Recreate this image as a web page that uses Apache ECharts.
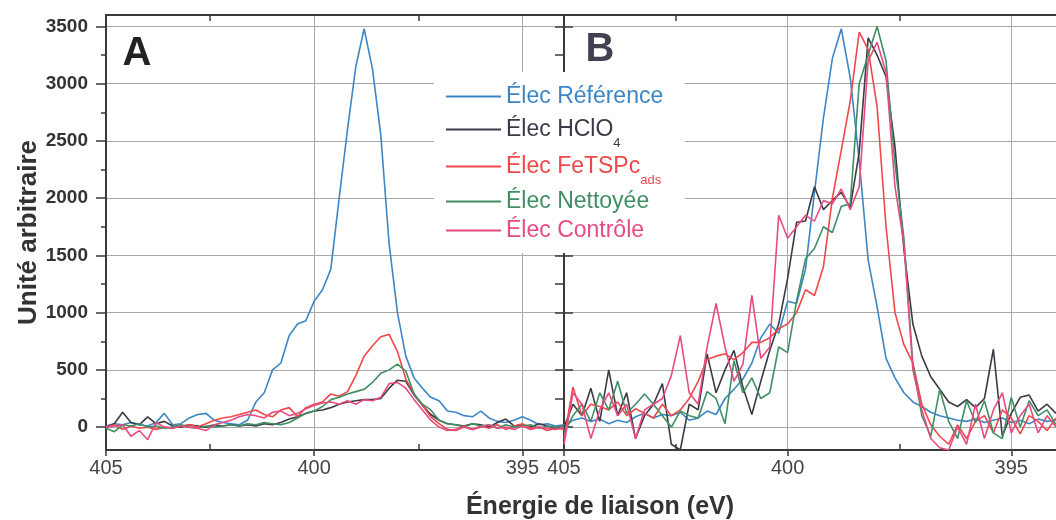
<!DOCTYPE html>
<html>
<head>
<meta charset="utf-8">
<script src="https://cdn.jsdelivr.net/npm/echarts@6/dist/echarts.min.js"></script>
<style>
html, body { margin: 0; padding: 0; background: #fff; }
#main { width: 1056px; height: 520px; }
</style>
</head>
<body>
<div id="main"></div>
<script>
// energie de liaison (eV), pas de 0.2
var energies = [405.0, 404.8, 404.6, 404.4, 404.2, 404.0, 403.8, 403.6, 403.4, 403.2,
    403.0, 402.8, 402.6, 402.4, 402.2, 402.0, 401.8, 401.6, 401.4, 401.2,
    401.0, 400.8, 400.6, 400.4, 400.2, 400.0, 399.8, 399.6, 399.4, 399.2,
    399.0, 398.8, 398.6, 398.4, 398.2, 398.0, 397.8, 397.6, 397.4, 397.2,
    397.0, 396.8, 396.6, 396.4, 396.2, 396.0, 395.8, 395.6, 395.4, 395.2,
    395.0, 394.8, 394.6, 394.4, 394.2, 394.0];

var names = ['Élec Référence', 'Élec HClO4', 'Élec FeTSPc ads', 'Élec Nettoyée', 'Élec Contrôle'];
var colors = ['#3d86c6', '#3b3b47', '#f0484a', '#3f8f63', '#e84a82'];

// panneau A
var refA = [10, 30, 20, 40, 20, 10, 40, 120, 20, 30,
    80, 110, 120, 60, 40, 30, 20, 60, 220, 300,
    500, 560, 800, 900, 930, 1100, 1200, 1380, 2000, 2600,
    3150, 3480, 3130, 2550, 1600, 1000, 620, 430, 340, 260,
    230, 140, 130, 100, 90, 140, 80, 50, 40, 60,
    90, 60, 20, 30, 10, 20];
var hclo4A = [0, 30, 130, 40, 20, 90, 30, 50, 10, 0,
    20, 10, 0, 20, 10, 20, 10, 20, 10, 30,
    20, 40, 70, 90, 120, 140, 150, 170, 200, 220,
    230, 240, 240, 250, 340, 410, 400, 280, 190, 110,
    60, 30, 20, 10, 30, 20, 0, 40, 70, 10,
    20, 0, 30, 10, -10, 10];
var fetspcA = [0, 20, -20, 10, -10, 0, -20, 0, -10, 10,
    20, 0, 30, 60, 80, 90, 110, 130, 150, 110,
    90, 150, 170, 90, 170, 200, 220, 290, 270, 310,
    450, 620, 710, 790, 810, 660, 420, 290, 190, 90,
    30, -20, -30, 0, -20, 10, -10, 20, -20, 10,
    30, -10, 0, -30, -10, -20];
var nettoyeeA = [-10, -40, 20, 10, 30, 0, 10, -10, 0, 20,
    0, -10, 10, 0, 10, 20, 10, 30, 20, 40,
    30, 20, 40, 80, 120, 140, 180, 240, 260, 290,
    310, 330, 390, 470, 500, 550, 490, 290, 200, 150,
    60, 30, 20, 0, 30, 10, 20, -10, 20, 0,
    10, 20, -10, 10, 0, 10];
var controleA = [0, 10, 20, -80, -30, -110, 40, 0, -10, 10,
    0, -10, -30, 20, 40, 60, 90, 110, 100, 80,
    130, 140, 100, 120, 160, 190, 210, 220, 200, 230,
    200, 240, 230, 260, 380, 390, 340, 240, 150, 60,
    0, -30, -20, 10, -20, 0, 20, -10, 0, -20,
    10, -20, 0, -10, -20, 0];

// panneau B
var refB = [0, 60, 80, 50, 70, 30, 60, 40, 90, 120,
    80, 110, 100, 130, 60, 80, 140, 110, 250, 330,
    420, 560, 780, 900, 820, 1100, 1080, 1380, 2050, 2700,
    3220, 3480, 3050, 2330, 1460, 1050, 600, 430, 300, 220,
    180, 130, 100, 80, 60, 50, 70, 40, 60, 80,
    40, 60, 30, 70, 50, 60];
var hclo4B = [0, 200, 100, 340, 50, 500, 100, 300, -100, 100,
    200, 380, -150, -200, 200, 150, 640, 300, 500, 670,
    350, 110, 400, 670, 900, 1300, 1790, 1800, 2100, 1900,
    1980, 2050, 1920, 2400, 3400, 3250, 3060, 2450, 1550, 900,
    620, 440, 330, 220, 180, 240, 170, 250, 680, -80,
    120, 260, 280, 140, 200, 120];
var fetspcB = [-100, 350, 100, 200, 180, 150, 220, 100, 160, 120,
    80, 200, 100, 150, 250, 400, 590, 620, 640, 590,
    650, 740, 740, 780, 860, 900, 1000, 1200, 1150, 1400,
    2000, 2420, 2850, 3450, 3300, 2800, 1750, 1000, 720, 560,
    200, 20, -80, -150, 20, -100, 50, 100, -50, 150,
    80, -60, 100, 50, -30, 80];
var nettoyeeB = [-50, 100, 200, 50, 300, 150, 400, 120, 200, 290,
    200, 100, 0, 140, 100, 80, 310, 250, 30, 580,
    300, 430, 250, 300, 700, 650, 1100, 1470, 1560, 1750,
    1700, 1930, 1950, 3000, 3250, 3500, 3200, 2300, 1650, 550,
    100, -80, 330, 50, -100, 230, 40, 230, -50, -100,
    260, 0, 230, 100, 150, 20];
var controleB = [-150, 300, 200, -100, 150, 300, 100, 200, -100, 150,
    200, 250, 450, 800, 300, 200, 700, 1080, 700, 400,
    550, 1150, 600, 700, 1850, 1650, 1750, 1850, 1800, 1980,
    1950, 2080, 1900, 2100, 3200, 3360, 3100, 2100, 1600, 500,
    150, -100, -180, -200, 0, -150, 200, -100, 150, 300,
    -50, 100, 200, -50, 100, 0];

var xLabels = [405, 400, 395];
var xMinor = [402.5, 397.5];
var yLabels = [0, 500, 1000, 1500, 2000, 2500, 3000, 3500];
var yMinor = [250, 750, 1250, 1750, 2250, 2750, 3250];
var yAll = [0, 250, 500, 750, 1000, 1250, 1500, 1750, 2000, 2250, 2500, 2750, 3000, 3250, 3500];

var panelA = [refA, hclo4A, fetspcA, nettoyeeA, controleA];
var panelB = [refB, hclo4B, fetspcB, nettoyeeB, controleB];

var FONT = 'Liberation Sans, Arial, sans-serif';
var AXIS_DARK = '#3a3a3a';
var GRID_GRAY = '#a8a8a8';

var dom = document.getElementById('main');
var myChart = echarts.init(dom, null, { renderer: 'canvas' });

function pairs(arr) {
    return energies.map(function (e, i) { return [e, arr[i]]; });
}

function xAxisSet(gridIndex) {
    return [
        { // axe principal, graduations et grille
            gridIndex: gridIndex, type: 'value', position: 'bottom', inverse: true,
            min: 394, max: 405,
            axisLine: { show: true, onZero: false, lineStyle: { color: AXIS_DARK, width: 2 } },
            axisTick: { show: true, inside: false, length: 6, customValues: xLabels, lineStyle: { color: AXIS_DARK, width: 1.5 } },
            axisLabel: { show: true, customValues: xLabels, margin: 8, color: '#454545', fontSize: 20, fontFamily: FONT,
                formatter: function (v) { return String(v); } },
            splitLine: { show: true, lineStyle: { color: GRID_GRAY, width: 1 } }
        },
        { // petites graduations en bas
            gridIndex: gridIndex, type: 'value', position: 'bottom', inverse: true,
            min: 394, max: 405,
            axisLine: { show: false, onZero: false },
            axisTick: { show: true, inside: true, length: 6, customValues: xMinor, lineStyle: { color: AXIS_DARK, width: 1.5 } },
            axisLabel: { show: false },
            splitLine: { show: false }
        },
        { // cadre du haut
            gridIndex: gridIndex, type: 'value', position: 'top', inverse: true,
            min: 394, max: 405,
            axisLine: { show: true, onZero: false, lineStyle: { color: AXIS_DARK, width: 2 } },
            axisTick: { show: true, inside: true, length: 6, customValues: xMinor, lineStyle: { color: AXIS_DARK, width: 1.5 } },
            axisLabel: { show: false },
            splitLine: { show: false }
        }
    ];
}

var series = [];
panelA.forEach(function (arr, k) {
    series.push({
        name: names[k], type: 'line', xAxisIndex: 0, yAxisIndex: 0,
        data: pairs(arr), showSymbol: false, symbol: 'none', clip: true,
        lineStyle: { color: colors[k], width: 1.6 }, itemStyle: { color: colors[k] }
    });
});
panelB.forEach(function (arr, k) {
    series.push({
        name: names[k], type: 'line', xAxisIndex: 3, yAxisIndex: 2,
        data: pairs(arr), showSymbol: false, symbol: 'none', clip: true,
        lineStyle: { color: colors[k], width: 1.6 }, itemStyle: { color: colors[k] }
    });
});

// légende : une ligne par composant pour placer chaque entrée
var legendTops = [85, 118, 155, 190, 219];
var legendFormats = ['{a|Élec Référence}', '{a|Élec HClO}{s|4}', '{a|Élec FeTSPc}{s|ads}', '{a|Élec Nettoyée}', '{a|Élec Contrôle}'];
var legends = names.map(function (n, k) {
    return {
        data: [n],
        left: 446, top: legendTops[k], padding: 0,
        icon: 'rect', itemWidth: 55, itemHeight: 2,
        selectedMode: false,
        formatter: legendFormats[k],
        textStyle: {
            rich: {
                a: { fontSize: 23, lineHeight: 40, color: colors[k], fontFamily: FONT },
                s: { fontSize: 13, color: colors[k], fontFamily: FONT, verticalAlign: 'top', padding: [27, 0, 0, 0] }
            }
        }
    };
});

var option = {
    backgroundColor: '#fff',
    animation: false,
    grid: [
        { left: 106, top: 15, right: 492, bottom: 70 },
        { left: 564, top: 15, right: -10, bottom: 70 }
    ],
    xAxis: xAxisSet(0).concat(xAxisSet(1)),
    yAxis: [
        {
            gridIndex: 0, type: 'value', position: 'left', min: -200, max: 3600,
            name: 'Unité arbitraire', nameLocation: 'middle', nameGap: 64,
            nameTextStyle: { fontSize: 26, fontWeight: 'bold', color: '#333', fontFamily: FONT },
            axisLine: { show: true, onZero: false, lineStyle: { color: AXIS_DARK, width: 2 } },
            axisTick: { show: true, length: 10, customValues: yLabels, lineStyle: { color: AXIS_DARK, width: 1.5 } },
            axisLabel: { customValues: yLabels, margin: 18, fontSize: 19, fontWeight: 'bold', color: '#333', fontFamily: FONT,
                formatter: function (v) { return String(v); } },
            splitLine: { show: true, lineStyle: { color: GRID_GRAY, width: 1 } }
        },
        {
            gridIndex: 0, type: 'value', position: 'left', min: -200, max: 3600,
            axisLine: { show: false, onZero: false },
            axisTick: { show: true, length: 5, customValues: yMinor, lineStyle: { color: AXIS_DARK, width: 1.5 } },
            axisLabel: { show: false },
            splitLine: { show: false }
        },
        {
            gridIndex: 1, type: 'value', position: 'left', min: -200, max: 3600,
            axisLine: { show: true, onZero: false, lineStyle: { color: AXIS_DARK, width: 2 } },
            axisTick: { show: true, inside: true, length: 9, customValues: yLabels, lineStyle: { color: AXIS_DARK, width: 1.5 } },
            axisLabel: { show: false },
            splitLine: { show: true, lineStyle: { color: GRID_GRAY, width: 1 } }
        },
        {
            gridIndex: 1, type: 'value', position: 'left', min: -200, max: 3600,
            axisLine: { show: false, onZero: false },
            axisTick: { show: true, length: 9, customValues: yAll, lineStyle: { color: AXIS_DARK, width: 1.5 } },
            axisLabel: { show: false },
            splitLine: { show: false }
        }
    ],
    legend: legends,
    graphic: [
        { type: 'rect', z: 1, shape: { x: 434, y: 72, width: 251, height: 181 }, style: { fill: '#fff' } },
        { type: 'text', z: 10, x: 137, y: 54, style: { text: 'A', font: 'bold 40px ' + FONT, fill: '#222', align: 'center', verticalAlign: 'middle' } },
        { type: 'text', z: 10, x: 600, y: 50, style: { text: 'B', font: 'bold 40px ' + FONT, fill: '#414152', align: 'center', verticalAlign: 'middle' } },
        { type: 'text', z: 10, x: 600, y: 507, style: { text: 'Énergie de liaison (eV)', font: 'bold 25px ' + FONT, fill: '#333', align: 'center', verticalAlign: 'middle' } }
    ],
    series: series
};

option && myChart.setOption(option);
window.addEventListener('resize', myChart.resize);
</script>
</body>
</html>
